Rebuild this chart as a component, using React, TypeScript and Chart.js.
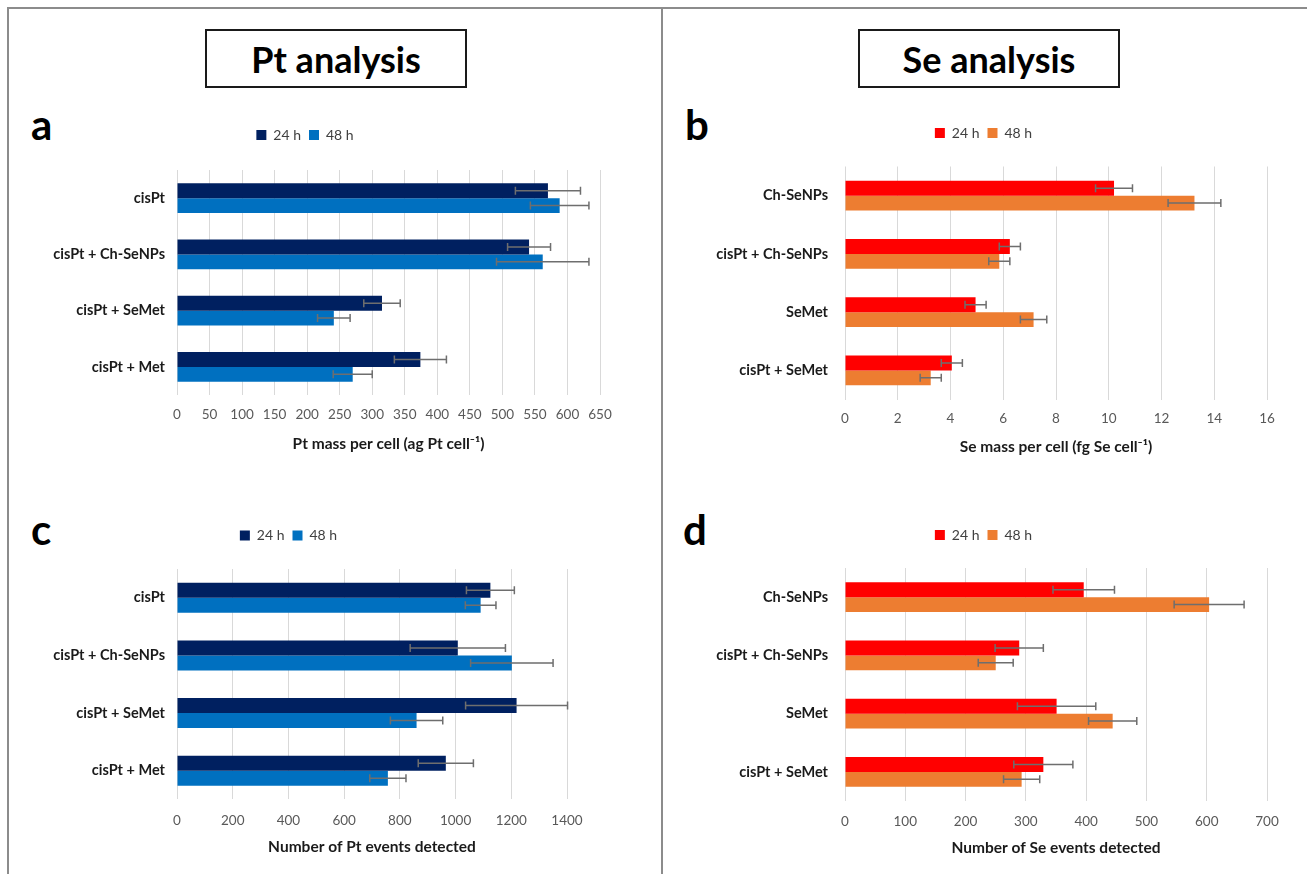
import React, { useEffect, useRef } from 'react';
import { Chart, registerables } from 'chart.js';
Chart.register(...registerables);

// ---------- data ----------
const seriesLabels = ['24 h', '48 h'];

const ptCategories = ['cisPt', 'cisPt + Ch-SeNPs', 'cisPt + SeMet', 'cisPt + Met'];
const seCategories = ['Ch-SeNPs', 'cisPt + Ch-SeNPs', 'SeMet', 'cisPt + SeMet'];

const ptMass24 = [570, 541, 315, 374];
const ptMass24Err = [50, 33, 28, 40];
const ptMass48 = [588, 562, 241, 270];
const ptMass48Err = [45, 71, 25, 30];

const seMass24 = [10.2, 6.25, 4.95, 4.05];
const seMass24Err = [0.7, 0.4, 0.4, 0.4];
const seMass48 = [13.25, 5.85, 7.15, 3.25];
const seMass48Err = [1.0, 0.4, 0.5, 0.4];

const ptEvents24 = [1125, 1008, 1219, 965];
const ptEvents24Err = [86, 171, 183, 99];
const ptEvents48 = [1090, 1202, 860, 757];
const ptEvents48Err = [55, 148, 94, 65];

const seEvents24 = [396, 289, 351, 329];
const seEvents24Err = [51, 40, 65, 49];
const seEvents48 = [604, 250, 444, 293];
const seEvents48Err = [58, 29, 40, 30];

const ptColors = ['#002060', '#0070C0'];
const seColors = ['#FF0000', '#ED7D31'];

const FONT = 'Lato, "Open Sans", sans-serif';

const errorBarPlugin = {
  id: 'errorBars',
  afterDatasetsDraw(chart: any) {
    const ctx = chart.ctx;
    const xs = chart.scales.x;
    chart.data.datasets.forEach((ds: any, i: number) => {
      const errs = ds.errors;
      if (!errs) return;
      const meta = chart.getDatasetMeta(i);
      meta.data.forEach((bar: any, j: number) => {
        const v = ds.data[j];
        const e = errs[j];
        const x1 = xs.getPixelForValue(v - e);
        const x2 = xs.getPixelForValue(v + e);
        const y = bar.y;
        ctx.save();
        ctx.strokeStyle = '#6e6e6e';
        ctx.lineWidth = 1.5;
        ctx.beginPath();
        ctx.moveTo(x1, y);
        ctx.lineTo(x2, y);
        ctx.moveTo(x1, y - 4);
        ctx.lineTo(x1, y + 4);
        ctx.moveTo(x2, y - 4);
        ctx.lineTo(x2, y + 4);
        ctx.stroke();
        ctx.restore();
      });
    });
  },
};

type Geo = {
  cl: number; cr: number; legendY: number; top: number; bottom: number;
  left: number; right: number; tickY: number; titleY: number; labelPad: number;
};

type PanelProps = {
  cats: string[];
  v24: number[]; e24: number[]; v48: number[]; e48: number[];
  colors: string[];
  max: number; step: number; title: string; catPct: number;
  geo: Geo;
};

function Panel(p: PanelProps) {
  const ref = useRef<HTMLCanvasElement>(null);
  const g = p.geo;
  const LF = 14, LP = 8;
  const legendH = LF + LP + 10;
  const canvasTopRaw = g.legendY - (LP + LF / 2);
  const cTop = Math.floor(canvasTopRaw);
  const padTop = canvasTopRaw - cTop;
  const spacer = g.top - (canvasTopRaw + legendH);
  const TF = 15.5;
  const H = g.titleY - g.bottom + (TF * 1.2) / 2;
  const cBottom = Math.ceil(g.bottom + H + 2);
  const padBottom = cBottom - (g.bottom + H);
  const width = g.cr - g.cl;
  const height = cBottom - cTop;
  const yW = g.left - g.cl;
  const padRight = g.cr - g.right;
  const TK = 13.5;
  const tickPad = g.tickY - g.bottom - (TK * 1.2) / 2;

  useEffect(() => {
    if (!ref.current) return;
    const chart = new Chart(ref.current, {
      type: 'bar',
      data: {
        labels: p.cats,
        datasets: [
          { label: seriesLabels[0], data: p.v24, errors: p.e24, backgroundColor: p.colors[0], borderWidth: 0, categoryPercentage: p.catPct, barPercentage: 1 } as any,
          { label: seriesLabels[1], data: p.v48, errors: p.e48, backgroundColor: p.colors[1], borderWidth: 0, categoryPercentage: p.catPct, barPercentage: 1 } as any,
        ],
      },
      options: {
        indexAxis: 'y',
        responsive: false,
        animation: false,
        devicePixelRatio: 1,
        layout: { padding: { top: padTop, bottom: padBottom, left: 0, right: padRight } },
        plugins: {
          legend: {
            position: 'top',
            labels: { boxWidth: 10, boxHeight: 10, padding: LP, color: '#404040', font: { family: FONT, size: LF } },
          },
          subtitle: {
            display: true, text: '', weight: 500,
            padding: { top: 0, bottom: Math.max(spacer - 1, 0) },
            font: { size: 1, lineHeight: 1 },
          } as any,
          tooltip: { enabled: false },
        },
        scales: {
          x: {
            min: 0, max: p.max,
            ticks: { stepSize: p.step, padding: tickPad, color: '#595959', font: { family: FONT, size: TK }, callback: (v: any) => String(v) },
            grid: { color: '#d9d9d9', drawTicks: false, lineWidth: 1 },
            border: { display: false },
            title: { display: true, text: p.title, color: '#1a1a1a', font: { family: FONT, size: TF, weight: 'bold' }, padding: { top: 0, bottom: 0 } },
            afterFit: (s: any) => { s.height = H; },
          },
          y: {
            grid: { display: false, drawTicks: false },
            border: { display: false },
            ticks: { padding: g.labelPad, color: '#1a1a1a', font: { family: FONT, size: 14.5, weight: 'bold' } },
            afterFit: (s: any) => { s.width = yW; },
          },
        },
      } as any,
      plugins: [errorBarPlugin],
    });
    return () => chart.destroy();
  }, []);

  return (
    <canvas
      ref={ref}
      width={width}
      height={height}
      style={{ position: 'absolute', left: g.cl, top: cTop, width, height }}
    />
  );
}

const headerStyle = (left: number): React.CSSProperties => ({
  position: 'absolute', left, top: 29, width: 262, height: 59, boxSizing: 'border-box',
  border: '2px solid #1a1a1a', display: 'flex', alignItems: 'center', justifyContent: 'center',
  fontFamily: FONT, fontWeight: 'bold', fontSize: 36, color: '#000', background: '#fff',
});

const letterStyle = (left: number, top: number): React.CSSProperties => ({
  position: 'absolute', left, top, fontFamily: FONT, fontWeight: 'bold', fontSize: 42, lineHeight: '42px', color: '#000',
});

export default function App() {
  return (
    <div style={{ position: 'fixed', left: 0, top: 0, width: 1307, height: 874, background: '#fff', overflow: 'hidden' }}>
      <div style={{ position: 'absolute', left: 7, top: 7, width: 1300, height: 2, background: '#8c8c8c' }} />
      <div style={{ position: 'absolute', left: 7, top: 7, width: 2, height: 867, background: '#8c8c8c' }} />
      <div style={{ position: 'absolute', left: 661, top: 7, width: 2, height: 867, background: '#8c8c8c' }} />

      <div style={headerStyle(205)}>Pt analysis</div>
      <div style={headerStyle(858)}>Se analysis</div>

      <div style={letterStyle(31, 103)}>a</div>
      <div style={letterStyle(685, 103)}>b</div>
      <div style={letterStyle(31, 508)}>c</div>
      <div style={letterStyle(683, 508)}>d</div>

      <Panel cats={ptCategories} v24={ptMass24} e24={ptMass24Err} v48={ptMass48} e48={ptMass48Err}
        colors={ptColors} max={650} step={50} title="Pt mass per cell (ag Pt cell⁻¹)" catPct={0.533}
        geo={{ cl: 10, cr: 660, legendY: 135, top: 170, bottom: 395, left: 177, right: 600, tickY: 415, titleY: 444, labelPad: 12 }} />
      <Panel cats={seCategories} v24={seMass24} e24={seMass24Err} v48={seMass48} e48={seMass48Err}
        colors={seColors} max={16} step={2} title="Se mass per cell (fg Se cell⁻¹)" catPct={0.515}
        geo={{ cl: 700, cr: 1307, legendY: 133, top: 166.5, bottom: 399.5, left: 845, right: 1267, tickY: 419, titleY: 447, labelPad: 17 }} />
      <Panel cats={ptCategories} v24={ptEvents24} e24={ptEvents24Err} v48={ptEvents48} e48={ptEvents48Err}
        colors={ptColors} max={1400} step={200} title="Number of Pt events detected" catPct={0.52}
        geo={{ cl: 10, cr: 660, legendY: 535.5, top: 569, bottom: 799.5, left: 177, right: 567, tickY: 821, titleY: 847, labelPad: 12 }} />
      <Panel cats={seCategories} v24={seEvents24} e24={seEvents24Err} v48={seEvents48} e48={seEvents48Err}
        colors={seColors} max={700} step={100} title="Number of Se events detected" catPct={0.515}
        geo={{ cl: 700, cr: 1307, legendY: 535, top: 568, bottom: 801, left: 845, right: 1267, tickY: 822, titleY: 848, labelPad: 17 }} />
    </div>
  );
}
